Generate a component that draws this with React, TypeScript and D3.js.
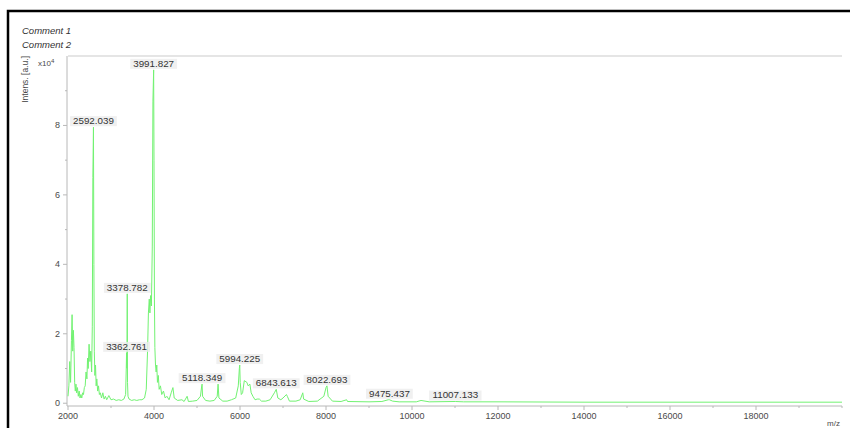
import React from 'react';
import * as d3 from 'd3';

const comments = ['Comment 1', 'Comment 2'];
const xTicks = [2000, 4000, 6000, 8000, 10000, 12000, 14000, 16000, 18000];
const xMinorTicks = [3000, 5000, 7000, 9000, 11000, 13000, 15000, 17000, 19000, 20000];
const yTicks = [0, 2, 4, 6, 8];
const yMinorTicks = [1, 3, 5, 7, 9];

// spectrum trace (m/z, intensity in 1e4 a.u.)
const spectrumMz = [
  2000, 2020, 2040, 2060, 2080, 2095, 2110, 2125, 2140, 2155, 2170, 2185, 2200, 2220, 2240, 2260, 2280, 2300,
  2320, 2340, 2360, 2380, 2400, 2420, 2440, 2455, 2470, 2490, 2510, 2530, 2550, 2565, 2578, 2592, 2602, 2612,
  2625, 2640, 2655, 2670, 2690, 2710, 2730, 2750, 2780, 2810, 2840, 2870, 2900, 2950, 3000, 3060, 3120, 3180,
  3240, 3300, 3340, 3355, 3362, 3370, 3378, 3384, 3395, 3420, 3480, 3540, 3600, 3660, 3720, 3780, 3820, 3850,
  3870, 3890, 3905, 3920, 3940, 3960, 3975, 3992, 4000, 4010, 4020, 4035, 4050, 4065, 4080, 4100, 4120, 4150,
  4180, 4220, 4260, 4300, 4350, 4400, 4440, 4470, 4550, 4650, 4700, 4770, 4800, 4900, 5000, 5080, 5110, 5118,
  5130, 5200, 5300, 5400, 5470, 5490, 5510, 5600, 5700, 5800, 5900, 5960, 5985, 5994, 6005, 6030, 6060, 6100,
  6160, 6190, 6230, 6260, 6300, 6350, 6400, 6450, 6500, 6600, 6700, 6800, 6843, 6880, 6950, 7000, 7080, 7100,
  7150, 7300, 7400, 7460, 7480, 7600, 7800, 7950, 8000, 8022, 8050, 8150, 8350, 8480, 8500, 9000, 9300, 9450,
  9475, 9550, 9700, 10100, 10210, 10400, 11000, 11007, 11200, 12000, 14000, 16000, 18000, 20000,
];
const spectrumIntensity = [
  0.2, 0.5, 1.2, 0.6, 1.8, 2.55, 1.5, 2.1, 1.6, 0.6, 0.35, 0.55, 0.3, 0.45, 0.2, 0.35, 0.15, 0.25,
  0.15, 0.3, 0.25, 0.45, 0.5, 0.9, 0.7, 1.3, 1.0, 1.7, 1.2, 1.5, 0.9, 2.2, 6.5, 7.95, 4.0, 1.5,
  0.8, 1.1, 0.5, 0.7, 0.35, 0.5, 0.25, 0.3, 0.15, 0.3, 0.12, 0.2, 0.1, 0.22, 0.1, 0.12, 0.08, 0.1,
  0.08, 0.12, 0.25, 1.0, 1.45, 1.0, 3.15, 0.6, 0.2, 0.12, 0.08, 0.1, 0.08, 0.1, 0.1, 0.15, 0.4, 1.5,
  2.6, 3.0, 2.6, 3.1, 2.8, 4.5, 8.7, 9.6, 7.0, 3.0, 1.6, 1.1, 0.9, 1.1, 0.6, 0.8, 0.4, 0.5,
  0.25, 0.35, 0.15, 0.2, 0.1, 0.3, 0.45, 0.15, 0.08, 0.1, 0.05, 0.2, 0.05, 0.06, 0.08, 0.2, 0.5, 0.55,
  0.2, 0.08, 0.06, 0.08, 0.2, 0.55, 0.15, 0.06, 0.06, 0.1, 0.15, 0.5, 1.0, 1.1, 0.6, 0.25, 0.3, 0.65,
  0.6, 0.5, 0.55, 0.3, 0.2, 0.1, 0.12, 0.12, 0.06, 0.06, 0.1, 0.3, 0.4, 0.15, 0.1, 0.15, 0.25, 0.2,
  0.06, 0.06, 0.1, 0.3, 0.12, 0.05, 0.06, 0.2, 0.45, 0.5, 0.2, 0.06, 0.05, 0.1, 0.05, 0.04, 0.05, 0.1,
  0.1, 0.06, 0.04, 0.04, 0.08, 0.04, 0.05, 0.05, 0.04, 0.04, 0.03, 0.03, 0.03, 0.03,
];

// labelled peaks
const peakMz = [2592.039, 3991.827, 3378.782, 3362.761, 5118.349, 5994.225, 6843.613, 8022.693, 9475.437, 11007.133];
const peakIntensity = [7.95, 9.6, 3.15, 1.45, 0.55, 1.1, 0.4, 0.5, 0.1, 0.05];

const W = 850;
const H = 428;

export default function App() {
  const x = d3.scaleLinear().domain([2000, 20000]).range([68, 842]);
  const y = d3.scaleLinear().domain([-0.08, 10]).range([406, 56]);
  const pts: [number, number][] = spectrumMz.map((m, i) => [m, spectrumIntensity[i]]);
  const line = d3
    .line<[number, number]>()
    .x((d) => x(d[0]))
    .y((d) => y(d[1]));
  const font = '"Liberation Sans", Arial, sans-serif';
  const axisColor = '#b8b8b8';
  const textColor = '#4a4a4a';

  return (
    <svg
      width={W}
      height={H}
      style={{ position: 'absolute', left: 0, top: 0, background: '#fff' }}
      fontFamily={font}
    >
      <rect x={8} y={11} width={W + 20} height={H + 20} fill="#fff" stroke="#000" strokeWidth={2.5} />
      {comments.map((c, i) => (
        <text key={c} x={22} y={34 + i * 14} fontSize={9.5} fontStyle="italic" fill="#333">
          {c}
        </text>
      ))}
      {/* frame */}
      <line x1={x(2000)} x2={x(20000)} y1={56} y2={56} stroke="#dcdcdc" strokeWidth={1.5} />
      <line x1={x(2000) - 1} x2={x(2000) - 1} y1={56} y2={406} stroke={axisColor} strokeWidth={1} />
      <line x1={x(2000) - 1} x2={x(20000)} y1={406} y2={406} stroke={axisColor} strokeWidth={1} />
      {/* y axis */}
      {yTicks.map((t) => (
        <g key={'y' + t}>
          <line x1={x(2000) - 5} x2={x(2000) - 1} y1={y(t)} y2={y(t)} stroke={axisColor} />
          <text x={x(2000) - 8} y={y(t) + 3} fontSize={9} textAnchor="end" fill={textColor}>
            {t}
          </text>
        </g>
      ))}
      {yMinorTicks.map((t) => (
        <line key={'ym' + t} x1={x(2000) - 3} x2={x(2000) - 1} y1={y(t)} y2={y(t)} stroke={axisColor} />
      ))}
      <text
        transform={`translate(28,56) rotate(-90)`}
        fontSize={8.5}
        textAnchor="end"
        fill={textColor}
      >
        Intens. [a.u.]
      </text>
      <text x={38} y={66} fontSize={8} fill={textColor}>
        x10<tspan dy={-3} fontSize={6}>4</tspan>
      </text>
      {/* x axis */}
      {xTicks.map((t) => (
        <g key={'x' + t}>
          <line x1={x(t)} x2={x(t)} y1={406} y2={410} stroke={axisColor} />
          <text x={x(t)} y={419} fontSize={9} textAnchor="middle" fill={textColor}>
            {t}
          </text>
        </g>
      ))}
      {xMinorTicks.map((t) => (
        <line key={'xm' + t} x1={x(t)} x2={x(t)} y1={406} y2={408} stroke={axisColor} />
      ))}
      <text x={840} y={426} fontSize={8} textAnchor="end" fill={textColor}>
        m/z
      </text>
      {/* spectrum */}
      <path d={line(pts) || ''} fill="none" stroke="#72f272" strokeWidth={1} strokeLinejoin="round" />
      {/* peak labels */}
      {peakMz.map((m, i) => {
        const label = m.toFixed(3);
        const cx = x(m);
        const by = y(peakIntensity[i]) - 3;
        const w = label.length * 5.6;
        return (
          <g key={'p' + i}>
            <rect x={cx - w / 2 - 1} y={by - 8} width={w + 2} height={10} fill="#ececec" opacity={0.8} />
            <text x={cx} y={by} fontSize={9.8} textAnchor="middle" fill="#333">
              {label}
            </text>
          </g>
        );
      })}
    </svg>
  );
}
